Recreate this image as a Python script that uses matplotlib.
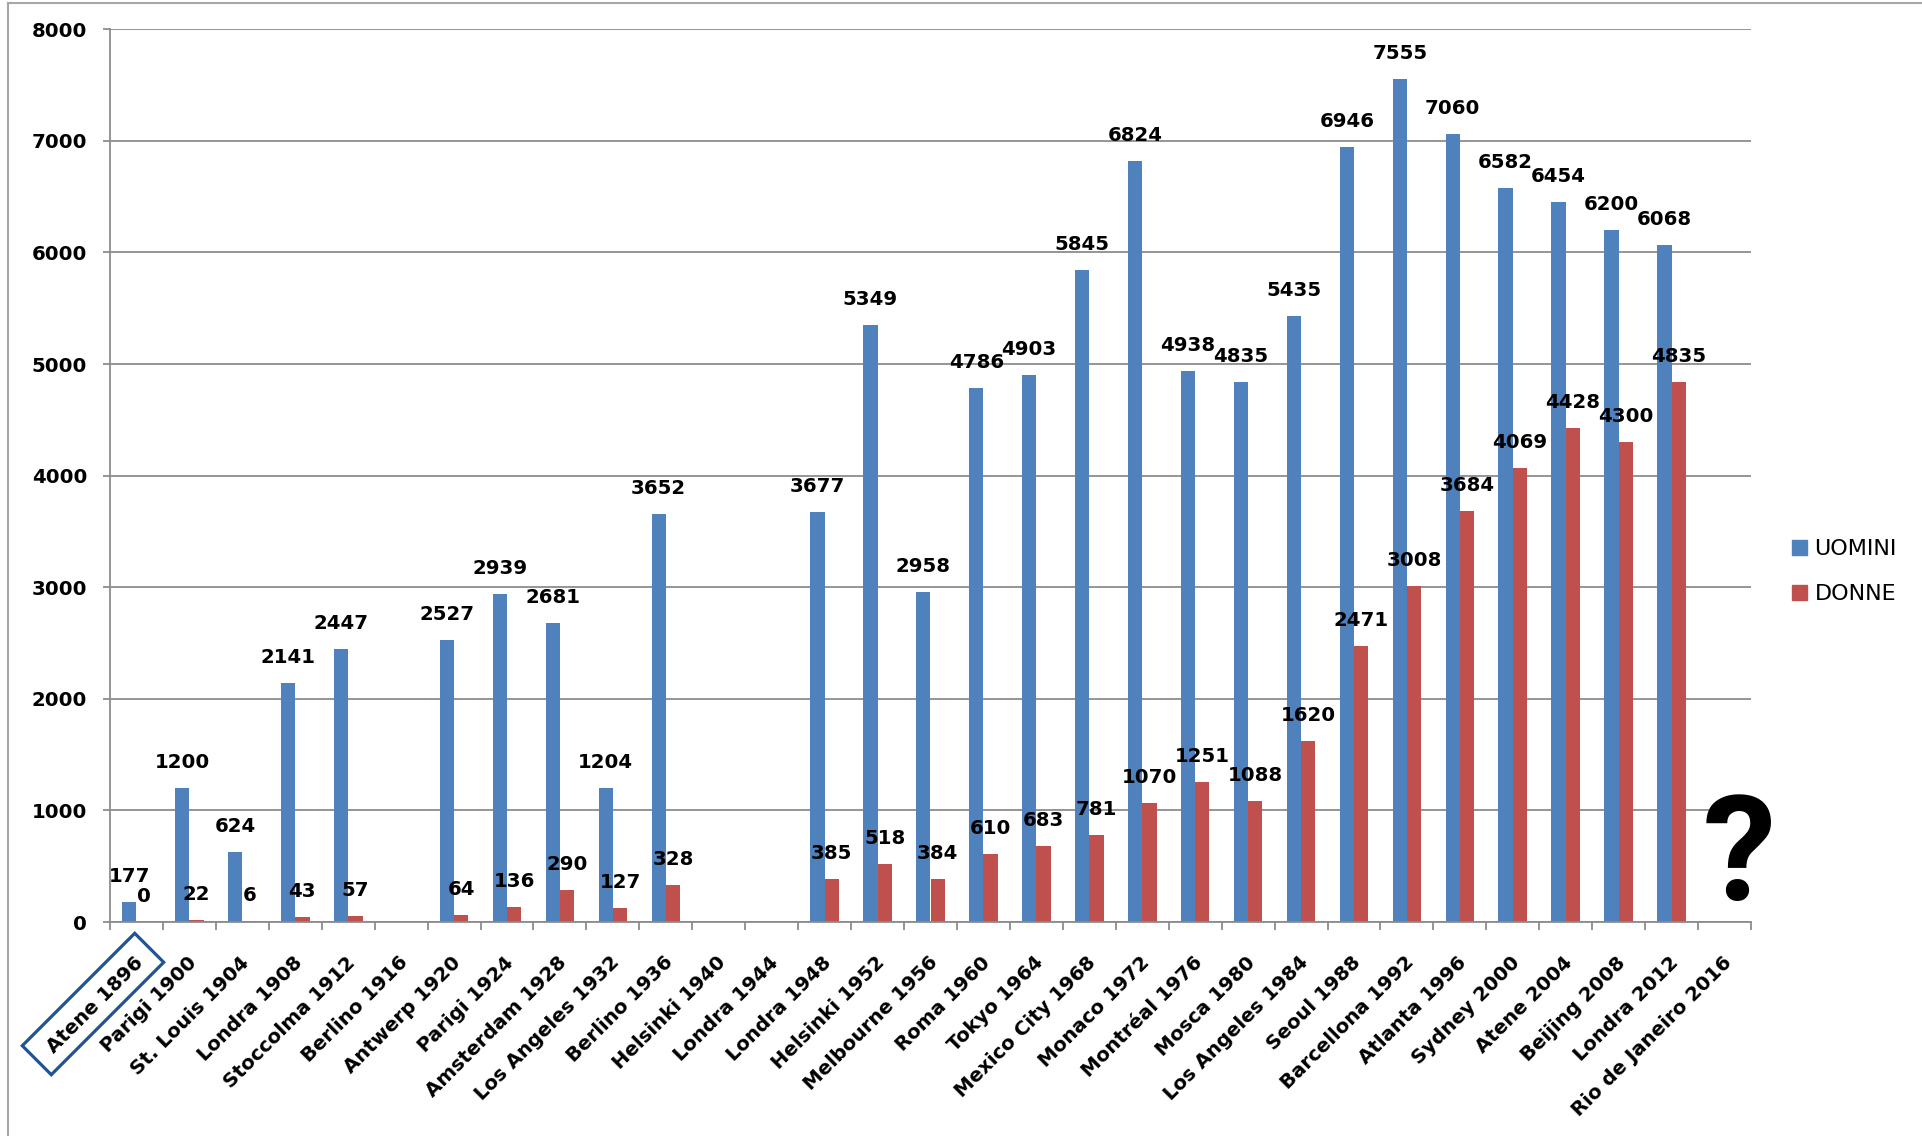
import numpy as np
import matplotlib
matplotlib.use('Agg')
import matplotlib.pyplot as plt
from matplotlib.patches import Patch, Polygon
from matplotlib.lines import Line2D
from matplotlib.transforms import ScaledTranslation

games = ["Atene 1896", "Parigi 1900", "St. Louis 1904", "Londra 1908", "Stoccolma 1912",
         "Berlino 1916", "Antwerp 1920", "Parigi 1924", "Amsterdam 1928", "Los Angeles 1932",
         "Berlino 1936", "Helsinki 1940", "Londra 1944", "Londra 1948", "Helsinki 1952",
         "Melbourne 1956", "Roma 1960", "Tokyo 1964", "Mexico City 1968", "Monaco 1972",
         "Montréal 1976", "Mosca 1980", "Los Angeles 1984", "Seoul 1988", "Barcellona 1992",
         "Atlanta 1996", "Sydney 2000", "Atene 2004", "Beijing 2008", "Londra 2012",
         "Rio de Janeiro 2016"]
uomini = [177, 1200, 624, 2141, 2447, None, 2527, 2939, 2681, 1204, 3652, None, None,
          3677, 5349, 2958, 4786, 4903, 5845, 6824, 4938, 4835, 5435, 6946, 7555, 7060,
          6582, 6454, 6200, 6068, None]
donne = [0, 22, 6, 43, 57, None, 64, 136, 290, 127, 328, None, None,
         385, 518, 384, 610, 683, 781, 1070, 1251, 1088, 1620, 2471, 3008, 3684,
         4069, 4428, 4300, 4835, None]
series_names = ["UOMINI", "DONNE"]
yticks = [0, 1000, 2000, 3000, 4000, 5000, 6000, 7000, 8000]

BLUE = "#4F81BD"
RED = "#C0504D"
GRID = "#8C8C8C"

W, H = 1922, 1136
fig = plt.figure(figsize=(W / 100, H / 100), dpi=100)
fig.patch.set_facecolor("white")
ax = fig.add_axes([110 / W, (H - 922) / H, (1751 - 110) / W, (922 - 29.3) / H])

x = np.arange(len(games))
men = np.array([np.nan if v is None else v for v in uomini], dtype=float)
wom = np.array([np.nan if v is None else v for v in donne], dtype=float)
bw = 0.27
for vals, off, col, name in [(men, -bw / 2, BLUE, series_names[0]), (wom, bw / 2, RED, series_names[1])]:
    m = np.isfinite(vals)
    ax.bar(x[m] + off, vals[m], bw, color=col, label=name, zorder=2)
    for xi, v in zip(x[m] + off, vals[m]):
        ax.annotate(f"{int(v)}", (xi, v), xytext=(0, 14.4), textcoords="offset points",
                    ha="center", va="baseline", fontsize=14.2, fontweight="bold",
                    color="black", zorder=3)

ax.set_xlim(-0.5, len(games) - 0.5)
ax.set_ylim(0, 8000)
ax.set_yticks(yticks)
ax.yaxis.grid(True, color=GRID, lw=1.3)
ax.set_axisbelow(True)
for s in ["top", "right"]:
    ax.spines[s].set_visible(False)
for s in ["left", "bottom"]:
    ax.spines[s].set_color(GRID)
    ax.spines[s].set_linewidth(1.3)

ax.set_xticks(x)
ax.set_xticklabels(games, rotation=45, ha="right", va="center", rotation_mode="anchor",
                   fontsize=14.2, fontweight="bold")
ax.set_xticks(np.arange(len(games) + 1) - 0.5, minor=True)
ax.tick_params(axis="x", which="major", length=0, pad=27)
ax.tick_params(axis="x", which="minor", length=6, color=GRID, width=1.3)
shift = ScaledTranslation(4 / 100, 0, fig.dpi_scale_trans)
for lab in ax.get_xticklabels():
    lab.set_transform(lab.get_transform() + shift)

ax.tick_params(axis="y", length=5, color=GRID, width=1.3, pad=11.5, labelsize=14.2)
for lab in ax.get_yticklabels():
    lab.set_fontweight("bold")

handles = [Patch(color=BLUE), Patch(color=RED)]
fig.legend(handles, series_names, loc="upper left",
           bbox_to_anchor=(1792 / W, 1 - 539 / H), frameon=False, fontsize=16,
           handlelength=0.68, handleheight=0.65, handletextpad=0.33, labelspacing=1.14,
           borderpad=0, borderaxespad=0)

# big question mark
fig.text(1739 / W, 236 / H, "?", ha="center", va="baseline", fontsize=106,
         family="Roboto", fontweight="bold", color="black")

# box around "Atene 1896"
cx, cy, bl, bh, ang = 93, 1004, 159, 41, np.deg2rad(45)
u = np.array([np.cos(ang), -np.sin(ang)])   # along text (top-down pixel coords)
v = np.array([np.sin(ang), np.cos(ang)])    # perpendicular
c = np.array([cx, cy])
corners = [c - u * bl / 2 - v * bh / 2, c + u * bl / 2 - v * bh / 2,
           c + u * bl / 2 + v * bh / 2, c - u * bl / 2 + v * bh / 2]
corners = [(p[0] / W, 1 - p[1] / H) for p in corners]
fig.add_artist(Polygon(corners, closed=True, fill=False, edgecolor="#1F5596", lw=2.3,
                       transform=fig.transFigure))

# outer frame lines (left and top)
fig.add_artist(Line2D([8 / W, 8 / W], [0, 1 - 2.5 / H], transform=fig.transFigure,
                      color="#A6A6A6", lw=1.5))
fig.add_artist(Line2D([8 / W, 1], [1 - 2.5 / H, 1 - 2.5 / H], transform=fig.transFigure,
                      color="#A6A6A6", lw=1.5))

fig.savefig("out.png", dpi=100, facecolor="white")
